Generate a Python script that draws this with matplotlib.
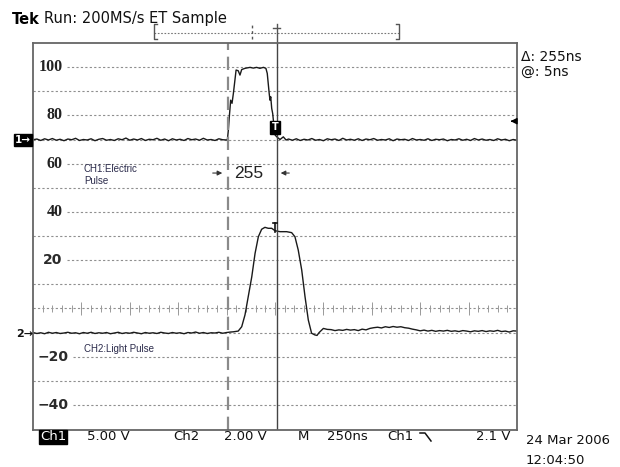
import numpy as np
import matplotlib.pyplot as plt
from matplotlib.lines import Line2D

# screen units: 10 per half division, time in ns (250 ns/div)
# CH1 electric pulse
ch1_pre = [69.9, 70.2, 69.6, 70.3, 69.8, 70.4, 69.7, 70.1, 69.5, 70.2,
           69.9, 70.5, 69.6, 70.0, 69.8, 70.3, 69.5, 70.1, 70.4, 69.7,
           70.0, 69.6, 70.3, 69.9, 70.6, 69.7, 70.2, 69.8, 70.4, 69.6,
           70.1, 69.9, 70.5, 69.7, 70.2, 69.5, 70.3, 69.8, 70.1, 69.6,
           70.4, 69.9, 70.2, 69.7, 70.5, 69.8, 70.0, 69.6, 70.3, 69.9, 69.8]
ch1_pulse_t = [1004, 1009, 1014, 1021, 1028, 1035, 1043, 1049, 1060, 1069,
               1078, 1095, 1121, 1138, 1155, 1172, 1190, 1203, 1210, 1215,
               1220, 1224, 1228, 1233, 1238, 1245, 1251, 1262, 1276, 1293, 1307]
ch1_pulse_v = [69.8, 73.9, 79.4, 86.3, 85.0, 89.1, 94.6, 98.8, 98.5, 96.7,
               99.0, 99.5, 99.9, 99.6, 99.9, 99.5, 99.9, 99.5, 97.4, 93.2,
               89.1, 86.3, 87.7, 82.9, 80.8, 75.3, 71.8, 70.9, 70.0, 71.1, 69.8]
ch1_post = [70.2, 69.7, 70.3, 69.6, 70.1, 69.8, 70.4, 69.7, 70.0, 69.5,
            70.3, 69.9, 70.2, 69.6, 70.5, 69.8, 70.1, 69.7, 70.3, 69.6,
            70.2, 69.9, 70.4, 69.7, 70.0, 69.8, 70.3, 69.5, 70.2, 69.9,
            70.1, 69.6, 70.4, 69.8, 70.0, 69.7, 70.3, 69.6, 70.1, 69.9,
            70.2, 69.5, 70.0, 69.8, 70.3, 69.7, 70.1, 69.6, 70.4, 69.8,
            70.2, 69.7, 70.0, 69.6, 70.3, 69.8, 70.1, 69.5, 70.0, 69.7]

# CH2 light pulse
ch2_pre = [-10.0, -10.4, -10.1, -10.5, -9.9, -10.3, -10.0, -10.4, -10.2, -9.9,
           -10.3, -10.1, -10.5, -10.0, -10.3, -9.9, -10.4, -10.1, -10.3, -10.0,
           -10.5, -10.2, -9.9, -10.4, -10.1, -10.3, -9.9, -10.2, -10.5, -10.0,
           -10.3, -10.1, -10.4, -9.9, -10.2, -10.4, -10.0, -10.3, -10.1, -10.5,
           -10.0, -10.2, -9.8, -10.3, -10.0, -10.4, -10.1, -10.2, -9.9, -10.3,
           -10.0, -9.8]
ch2_pulse_t = [1035, 1060, 1078, 1095, 1112, 1130, 1147, 1164, 1181, 1198,
               1215, 1233, 1250, 1276, 1310, 1336, 1353, 1370, 1388, 1405,
               1422, 1439, 1456, 1467, 1478, 1500, 1520]
ch2_pulse_v = [-9.7, -9.4, -7.6, -2.7, 4.9, 13.1, 22.8, 29.7, 32.8, 33.6,
               33.2, 33.2, 32.2, 31.8, 31.8, 31.4, 29.7, 24.2, 15.9, 4.9,
               -4.8, -10.3, -11.0, -11.2, -10.0, -8.3, -8.7]
ch2_post = [-8.8, -9.2, -8.9, -9.1, -8.7, -9.0, -8.8, -9.2, -8.6, -8.9,
            -8.3, -8.0, -7.8, -8.1, -7.6, -7.9, -7.5, -7.8, -7.6, -8.0,
            -8.2, -8.6, -8.9, -9.3, -9.0, -9.4, -9.1, -9.5, -9.2, -9.4,
            -9.1, -9.5, -9.3, -9.6, -9.2, -9.4, -9.7, -9.3, -9.5, -9.2,
            -9.6, -9.3, -9.5, -9.1, -9.6, -9.4, -9.8, -9.3, -9.4]

grid_levels = [100, 90, 80, 70, 60, 50, 40, 30, 20, 10, -10, -20, -30, -40]
axis_labels = [100, 80, 60, 40, 20, -20, -40]
serif_labels = [100, 80, 60, 40]

cursor1 = 1005
cursor2 = 1258

W, H = 620, 467
def fx(px):
    return px / W
def fy(py):
    return 1 - py / H

fig = plt.figure(figsize=(6.2, 4.67), dpi=100)
ax = fig.add_axes([33 / W, 37 / H, 484 / W, 387 / H])
ax.set_xlim(0, 2500)
ax.set_ylim(-50.4, 110)
ax.set_xticks([])
ax.set_yticks([])
for s in ax.spines.values():
    s.set_color('#666666')
    s.set_linewidth(1.3)

# graticule
for v in grid_levels:
    start = 0
    if v in axis_labels:
        start = 176 if v > 0 else 207
    ax.plot([start, 2500], [v, v], color='#8f8f8f', lw=0.8, ls=(0, (2, 2)))
ax.plot([0, 2500], [0, 0], color='#8f8f8f', lw=0.8, ls=(0, (2, 2)))
minor = np.arange(50, 2500, 50)
major = np.arange(250, 2500, 250)
ax.vlines(minor, -1.3, 1.3, color='#9a9a9a', lw=0.7)
ax.vlines(major, -2.7, 2.7, color='#9a9a9a', lw=0.7)

for v in axis_labels:
    lab = str(v).replace('-', '\u2212')
    if v in serif_labels:
        ax.text(152, v, lab, ha='right', va='center', fontsize=11.5,
                fontweight='bold', family='Liberation Serif', color='#222222')
    else:
        ax.text(181 if v < 0 else 152, v, lab, ha='right', va='center',
                fontsize=10, fontweight='bold', family='DejaVu Sans', color='#2a2a2a')

# traces
t1 = np.concatenate([20 * np.arange(len(ch1_pre)), ch1_pulse_t,
                     1320 + 20 * np.arange(len(ch1_post))])
v1 = np.concatenate([ch1_pre, ch1_pulse_v, ch1_post])
t2 = np.concatenate([20 * np.arange(len(ch2_pre)), ch2_pulse_t,
                     1540 + 20 * np.arange(len(ch2_post))])
v2 = np.concatenate([ch2_pre, ch2_pulse_v, ch2_post])
ax.plot(t1, v1, color='#1a1a1a', lw=1.0)
ax.plot(t2, v2, color='#1a1a1a', lw=1.0)

# cursors
ax.axvline(cursor1, color='#8a8a8a', lw=1.6, ls=(0, (6, 3)))
ax.axvline(cursor2, color='#444444', lw=1.0)

# record view bar above the screen
bar_c = '#777777'
ax.plot([625, 1890], [114, 114], color=bar_c, lw=0.8, ls=(0, (1.5, 1.5)), clip_on=False)
ax.plot([640, 625, 625, 640], [118, 118, 111.8, 111.8], color='#555555', lw=1.0, clip_on=False)
ax.plot([1875, 1890, 1890, 1875], [118, 118, 111.8, 111.8], color='#555555', lw=1.0, clip_on=False)
ax.plot([1131, 1131], [111.8, 117.8], color='#555555', lw=1.0, ls=(0, (2, 2)), clip_on=False)
ax.plot([cursor2, cursor2], [110, 118], color='#555555', lw=1.0, clip_on=False)
ax.plot([cursor2 - 20, cursor2 + 20], [116.3, 116.3], color='#555555', lw=1.0, clip_on=False)

# markers
ax.text(1250, 75, 'T', color='white', fontsize=7, fontweight='bold', ha='center', va='center',
        bbox=dict(boxstyle='square,pad=0.15', fc='black', ec='black'))
ax.plot([1238, 1262], [35.5, 35.5], color='#111111', lw=1.2)
ax.plot([1250, 1250], [35.5, 31.8], color='#111111', lw=1.2)
ax.annotate('', xy=(2452, 77.6), xytext=(2495, 77.6),
            arrowprops=dict(arrowstyle='-|>', color='black', lw=1.0, mutation_scale=9))

# delta annotation
ax.annotate('', xy=(992, 56.1), xytext=(914, 56.1),
            arrowprops=dict(arrowstyle='-|>', color='#333333', lw=0.8, mutation_scale=7))
ax.annotate('', xy=(1265, 56.1), xytext=(1338, 56.1),
            arrowprops=dict(arrowstyle='-|>', color='#333333', lw=0.8, mutation_scale=7))
ax.text(1113, 56.1, '255', ha='center', va='center', fontsize=12.5,
        family='Liberation Sans', color='#222222')

ax.text(263, 55.3, 'CH1:Electric\nPulse', ha='left', va='center', fontsize=7,
        family='Liberation Sans', color='#2b2b4b', linespacing=1.3)
ax.text(263, -16.8, 'CH2:Light Pulse', ha='left', va='center', fontsize=7,
        family='Liberation Sans', color='#2b2b4b')

# header / side readouts
fig.text(fx(12), fy(19), 'Tek', fontsize=10.5, fontweight='bold', va='center')
fig.text(fx(44), fy(19), 'Run: 200MS/s ET Sample', fontsize=10.5, va='center', color='#111111')
fig.text(fx(521), fy(57), '\u0394: 255ns', fontsize=10, va='center', color='#111111')
fig.text(fx(521), fy(72), '@: 5ns', fontsize=10, va='center', color='#111111')

fig.text(fx(15), fy(140), '1\u2192', fontsize=7.5, fontweight='bold', color='white', va='center',
         bbox=dict(boxstyle='square,pad=0.1', fc='black', ec='black'))
fig.text(fx(16), fy(334), '2\u2192', fontsize=8, fontweight='bold', color='#111111', va='center')

# bottom status row
row = fy(437)
fig.text(fx(40), row, 'Ch1', fontsize=9.5, color='white', va='center',
         bbox=dict(boxstyle='square,pad=0.05', fc='black', ec='black'))
fig.text(fx(87), row, '5.00 V', fontsize=9.5, va='center', color='#111111')
fig.text(fx(173), row, 'Ch2', fontsize=9.5, va='center', color='#111111')
fig.text(fx(224), row, '2.00 V', fontsize=9.5, va='center', color='#111111')
fig.text(fx(298), row, 'M', fontsize=9.5, va='center', color='#111111')
fig.text(fx(327), row, '250ns', fontsize=9.5, va='center', color='#111111')
fig.text(fx(387), row, 'Ch1', fontsize=9.5, va='center', color='#111111')
fig.add_artist(Line2D([fx(420), fx(425), fx(431)], [fy(433), fy(433), fy(441)],
                     color='#111111', lw=1.1))
fig.text(fx(476), row, '2.1 V', fontsize=9.5, va='center', color='#111111')
fig.text(fx(526), fy(440), '24 Mar 2006', fontsize=9.5, va='center', color='#111111')
fig.text(fx(526), fy(461), '12:04:50', fontsize=9.5, va='center', color='#111111')

fig.savefig('out.png', dpi=100)
